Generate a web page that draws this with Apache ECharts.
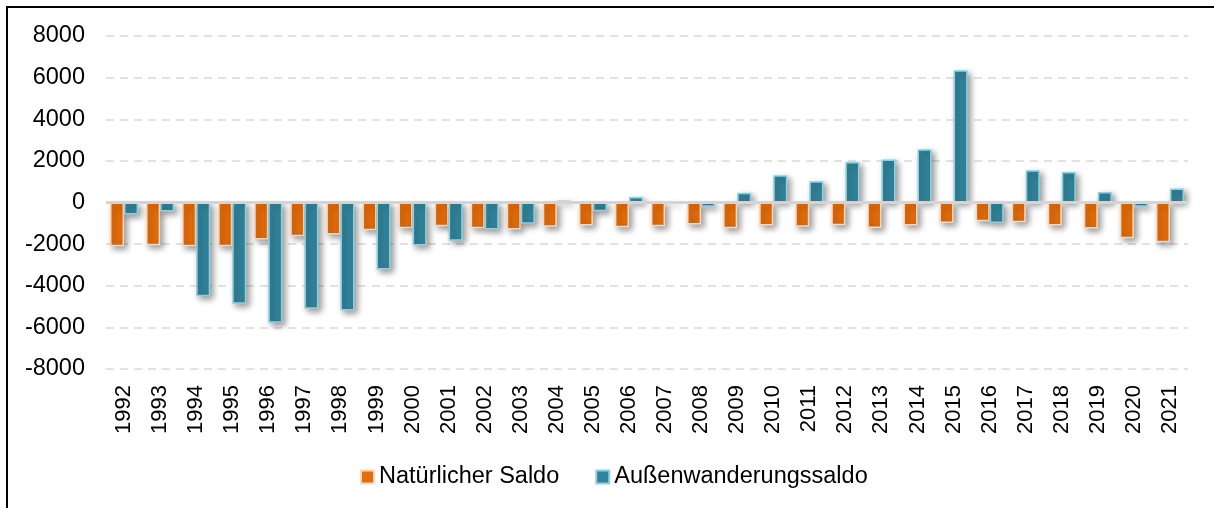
<!DOCTYPE html>
<html>
<head>
<meta charset="utf-8">
<script src="https://cdn.jsdelivr.net/npm/echarts@6/dist/echarts.min.js"></script>
<style>
    html, body { margin: 0; padding: 0; background: #fff; overflow: hidden; }
    #main { width: 1214px; height: 508px; }
</style>
</head>
<body>
<div id="main"></div>
<script>
    // Jahre und Salden
    var years = ['1992','1993','1994','1995','1996','1997','1998','1999','2000','2001',
                 '2002','2003','2004','2005','2006','2007','2008','2009','2010','2011',
                 '2012','2013','2014','2015','2016','2017','2018','2019','2020','2021'];
    var natuerlich = [-2100,-2050,-2100,-2100,-1780,-1620,-1540,-1330,-1235,-1140,
                      -1235,-1300,-1170,-1100,-1190,-1140,-1060,-1235,-1100,-1170,
                      -1090,-1220,-1100,-980,-900,-950,-1100,-1250,-1720,-1910];
    var wanderung = [-580,-430,-4500,-4870,-5780,-5100,-5190,-3220,-2070,-1840,
                     -1300,-1025,100,-420,270,0,-200,465,1310,1025,
                     1940,2070,2560,6360,-980,1550,1460,510,-200,670];

    var chart = echarts.init(document.getElementById('main'));
    var font = 'Liberation Sans, Arial, sans-serif';

    chart.setOption({
        animation: false,
        backgroundColor: '#fff',
        graphic: [{
            type: 'rect',
            shape: { x: 7, y: 7, width: 1300, height: 600 },
            style: { fill: 'none', stroke: '#000', lineWidth: 2 },
            silent: true
        }],
        grid: { left: 106, right: 26, top: 36, bottom: 139 },
        legend: {
            left: 355,
            top: 460,
            icon: 'rect',
            itemWidth: 13,
            itemHeight: 13,
            itemGap: 36,
            textStyle: { fontFamily: font, fontSize: 23.5, color: '#000' },
            data: ['Natürlicher Saldo', 'Außenwanderungssaldo']
        },
        xAxis: {
            type: 'category',
            data: years,
            axisLine: { show: false, onZero: false },
            axisTick: { show: false },
            axisLabel: {
                rotate: 90,
                margin: 16,
                fontFamily: font,
                fontSize: 22,
                color: '#000'
            }
        },
        yAxis: {
            type: 'value',
            min: -8000,
            max: 8000,
            interval: 2000,
            axisLine: { show: false },
            axisTick: { show: false },
            axisLabel: {
                margin: 21,
                fontFamily: font,
                fontSize: 23.5,
                color: '#000',
                formatter: function (v) { return String(v); }
            },
            splitLine: {
                lineStyle: { color: '#d9d9d9', width: 1.5, type: [8, 6] }
            }
        },
        series: [{
            name: 'Natürlicher Saldo',
            type: 'bar',
            data: natuerlich,
            barGap: '0%',
            barCategoryGap: '22%',
            itemStyle: {
                color: '#E46C0A',
                borderColor: '#fcd9bd',
                borderWidth: 1.5,
                shadowBlur: 6,
                shadowOffsetX: 3,
                shadowOffsetY: 3,
                shadowColor: 'rgba(0,0,0,0.4)'
            }
        }, {
            name: 'Außenwanderungssaldo',
            type: 'bar',
            data: wanderung,
            itemStyle: {
                color: '#31849B',
                borderColor: '#8fcfe0',
                borderWidth: 1.5,
                shadowBlur: 6,
                shadowOffsetX: 3,
                shadowOffsetY: 3,
                shadowColor: 'rgba(0,0,0,0.4)'
            },
            markLine: {
                silent: true,
                symbol: 'none',
                label: { show: false },
                lineStyle: { color: '#d4d4d4', width: 3, type: 'solid' },
                data: [{ yAxis: 0 }]
            }
        }]
    });
</script>
</body>
</html>
